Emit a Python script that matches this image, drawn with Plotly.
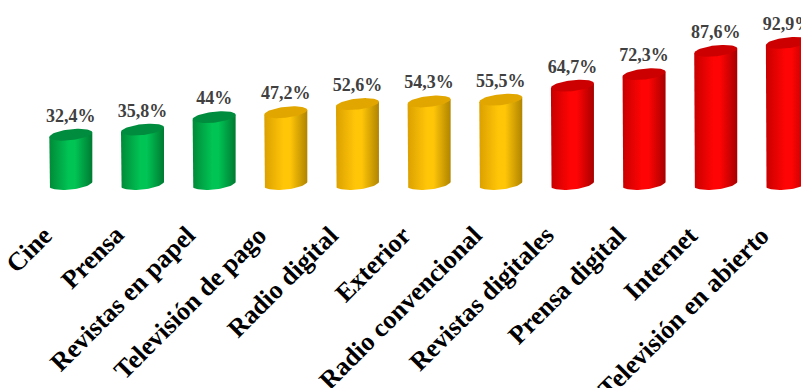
import numpy as np
import plotly.graph_objects as go

categories = ["Cine", "Prensa", "Revistas en papel", "Televisión de pago", "Radio digital",
              "Exterior", "Radio convencional", "Revistas digitales", "Prensa digital",
              "Internet", "Televisión en abierto"]
values = [32.4, 35.8, 44.0, 47.2, 52.6, 54.3, 55.5, 64.7, 72.3, 87.6, 92.9]
value_labels = ["32,4%", "35,8%", "44%", "47,2%", "52,6%", "54,3%", "55,5%",
                "64,7%", "72,3%", "87,6%", "92,9%"]
groups = ["green", "green", "green", "yellow", "yellow", "yellow", "yellow",
          "red", "red", "red", "red"]

palette = {
    "green": dict(left="#008a38", hi="#00c454", right="#007a32", top="#008c3e"),
    "yellow": dict(left="#dca000", hi="#ffc608", right="#b08400", top="#e2a600"),
    "red": dict(left="#c80000", hi="#ff0404", right="#a80000", top="#cc0000"),
}

HW = 0.3      # half width of cylinder in category units
RY = 3.6      # ellipse vertical radius in value units
TILT = 1.5    # rise of the right side of the ellipses (value units)
FONT = "Liberation Serif, Times New Roman, serif"

fig = go.Figure()
t = np.linspace(0, np.pi, 40)
tt = np.linspace(0, 2 * np.pi, 80)


def tilt(dx):
    return TILT * np.asarray(dx) / HW


for i, (v, g) in enumerate(zip(values, groups)):
    c = palette[g]
    dxb = -HW * np.cos(t)
    bx = [i - HW] + list(i + dxb) + [i + HW, i - HW]
    by = ([v + tilt(-HW)] + list(0 - RY * np.sin(t) + tilt(dxb))
          + [v + tilt(HW), v + tilt(-HW)])
    fig.add_trace(go.Scatter(
        x=bx, y=by, mode="lines", line=dict(width=0), fill="toself",
        fillgradient=dict(type="horizontal",
                          colorscale=[[0, c["left"]], [0.45, c["hi"]], [0.6, c["hi"]],
                                      [1, c["right"]]]),
        hoverinfo="skip", showlegend=False))
    dxt = HW * np.cos(tt)
    fig.add_trace(go.Scatter(
        x=list(i + dxt), y=list(v + RY * np.sin(tt) + tilt(dxt)),
        mode="lines", line=dict(width=0), fill="toself", fillcolor=c["top"],
        hoverinfo="skip", showlegend=False))

fig.add_trace(go.Scatter(
    x=list(range(len(values))), y=[v + RY + 2 for v in values],
    mode="text", text=value_labels, textposition="top center",
    textfont=dict(family=FONT, size=18, color="#404040", weight="bold"),
    cliponaxis=False, hoverinfo="skip", showlegend=False))

annotations = [
    dict(x=i, xref="x", y=0, yref="paper", text=cat, showarrow=False,
         textangle=-45, xanchor="right", yanchor="top", xshift=-10, yshift=-26,
         font=dict(family=FONT, size=26, color="black", weight="bold"))
    for i, cat in enumerate(categories)
]

fig.update_layout(
    width=801, height=388,
    margin=dict(l=35, r=0, t=0, b=196, autoexpand=False),
    paper_bgcolor="white", plot_bgcolor="white",
    xaxis=dict(range=[-0.5, 10.19], showticklabels=False, showgrid=False,
               zeroline=False, showline=False, ticks="", automargin=False),
    yaxis=dict(range=[-5.26, 121.05], visible=False, showgrid=False, zeroline=False),
    annotations=annotations,
)

fig.write_html("out.html", config={"displayModeBar": False},
               post_script="document.body.style.margin='0';")
